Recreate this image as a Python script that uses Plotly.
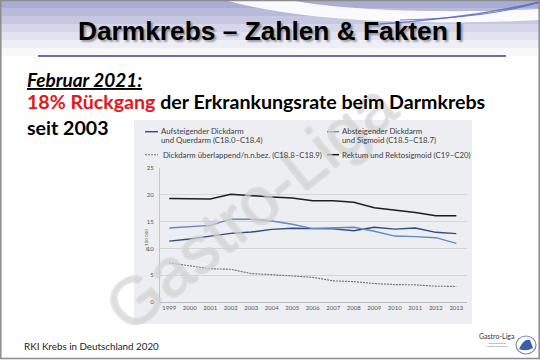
import plotly.graph_objects as go

# Darmkrebs-Inzidenz je 100 000 nach Lokalisation (RKI), 1999-2013
years = list(range(1999, 2014))
aufsteigend = [11.35, 11.75, 12.3, 12.8, 13.05, 13.55, 13.75, 13.65, 13.65, 13.3, 13.95, 13.6, 13.8, 13.0, 12.75]
absteigend = [13.8, 14.1, 14.3, 15.45, 15.45, 15.1, 14.5, 13.7, 13.8, 13.95, 13.2, 12.3, 12.2, 12.0, 10.95]
ueberlappend = [7.3, 6.8, 6.2, 6.1, 5.3, 5.1, 4.8, 4.6, 3.95, 3.8, 3.45, 3.25, 3.2, 2.95, 2.9]
rektum = [19.3, 19.3, 19.2, 20.1, 19.8, 19.6, 19.4, 18.9, 18.9, 18.6, 17.6, 17.2, 16.7, 16.1, 16.1]

series_names = [
    "Aufsteigender Dickdarm<br>und Querdarm (C18.0–C18.4)",
    "Absteigender Dickdarm<br>und Sigmoid (C18.5–C18.7)",
    "Dickdarm überlappend/n.n.bez. (C18.8–C18.9)",
    "Rektum und Rektosigmoid (C19–C20)",
]
y_ticks = [0, 5, 10, 15, 20, 25]

W, H = 540, 360


def fx(px):
    return px / W


def fy(py):
    return 1 - py / H


C_AUF = "#2f4d7c"
C_AB = "#6289c0"
C_UEB = "#6f7275"
C_REK = "#1e1e1e"
FONT = "Lato"

fig = go.Figure()
styles = [
    (aufsteigend, dict(color=C_AUF, width=1.4)),
    (absteigend, dict(color=C_AB, width=1.4)),
    (ueberlappend, dict(color=C_UEB, width=1.1, dash="2px,1px")),
    (rektum, dict(color=C_REK, width=1.5)),
]
for (vals, line), name in zip(styles, series_names):
    fig.add_trace(go.Scatter(x=years, y=vals, mode="lines", line=line,
                             name=name.replace("<br>", " "), showlegend=False,
                             hoverinfo="skip"))

shapes = []

# top banner: lavender fade
bands = [(0, 8, 0.62), (8, 16, 0.52), (16, 24, 0.42), (24, 32, 0.31),
         (32, 40, 0.21), (40, 48, 0.12), (48, 56, 0.05)]
for y0, y1, a in bands:
    shapes.append(dict(type="rect", xref="paper", yref="paper",
                       x0=0, x1=1, y0=fy(y1), y1=fy(y0),
                       fillcolor=f"rgba(118,122,184,{a})", line_width=0, layer="below"))

# white swoosh across the banner
shapes.append(dict(type="path", xref="paper", yref="paper",
                   path=f"M {fx(225)},{fy(0)} C {fx(300)},{fy(22)} {fx(430)},{fy(26)} {fx(540)},{fy(20)} "
                        f"L {fx(540)},{fy(9)} C {fx(440)},{fy(14)} {fx(340)},{fy(10)} {fx(290)},{fy(0)} Z",
                   fillcolor="rgba(255,255,255,0.92)", line_width=0, layer="below"))
# blue accent strokes at the top right
for (a, b, c), wdt in [((380, 24, 470), 1.6), ((400, 20, 490), 1.0)]:
    shapes.append(dict(type="path", xref="paper", yref="paper",
                       path=f"M {fx(a)},{fy(b)} Q {fx(c)},{fy(18)} {fx(540)},{fy(2)}",
                       line=dict(color="rgba(80,100,190,0.8)", width=wdt), layer="below"))

# rule under the heading
shapes.append(dict(type="line", xref="paper", yref="paper",
                   x0=fx(38), x1=fx(506), y0=fy(56), y1=fy(56),
                   line=dict(color="#3c3f8e", width=1.5)))

# chart panel
shapes.append(dict(type="rect", xref="paper", yref="paper",
                   x0=fx(134), x1=fx(472), y0=fy(324), y1=fy(120),
                   fillcolor="#eceef1", line_width=0, layer="below"))

# legend samples
leg_samples = [
    (145, 158, 131.7, C_AUF, None, 1.4),
    (327, 339, 131.7, C_AB, None, 1.4),
    (145, 158, 154.7, C_UEB, "2px,1px", 1.1),
    (327, 339, 154.7, C_REK, None, 1.5),
]
for x0, x1, y, col, dash, wdt in leg_samples:
    ln = dict(color=col, width=wdt)
    if dash:
        ln["dash"] = dash
    shapes.append(dict(type="line", xref="paper", yref="paper",
                       x0=fx(x0), x1=fx(x1), y0=fy(y), y1=fy(y), line=ln))

# slide frame
shapes.append(dict(type="rect", xref="paper", yref="paper",
                   x0=fx(0.8), x1=fx(539.2), y0=fy(358.5), y1=fy(0.5),
                   line=dict(color="#8c8c8c", width=1.5)))

# logo mark
shapes.append(dict(type="circle", xref="paper", yref="paper",
                   x0=fx(516), x1=fx(536), y0=fy(354), y1=fy(336),
                   line=dict(color="#7c86b8", width=1.2), fillcolor="rgba(255,255,255,0)"))
shapes.append(dict(type="path", xref="paper", yref="paper",
                   path=f"M {fx(519)},{fy(349)} Q {fx(524)},{fy(338)} {fx(530)},{fy(340)} "
                        f"L {fx(533)},{fy(348)} Q {fx(526)},{fy(352)} {fx(519)},{fy(349)} Z",
                   fillcolor="#3d5ca8", line_width=0))

ann = []


def text(x, y, s, size, color="#000", family=FONT, xanchor="left", **kw):
    ann.append(dict(x=fx(x), y=fy(y), xref="paper", yref="paper", text=s,
                    showarrow=False, xanchor=xanchor, yanchor="middle",
                    font=dict(size=size, color=color, family=family, **kw)))


# diagonal watermark (behind the slide text)
OUT = "rgba(165,165,165,0.55)"
ann.append(dict(x=fx(250), y=fy(206), xref="paper", yref="paper", text="Gastro-Liga",
                showarrow=False, textangle=-39,
                font=dict(size=67, family="Liberation Sans", color="rgba(255,255,255,0.35)",
                          shadow=f"1px 0 0 {OUT}, -1px 0 0 {OUT}, 0 1px 0 {OUT}, 0 -1px 0 {OUT}")))

text(270, 31, "<b>Darmkrebs – Zahlen &amp; Fakten I</b>", 26.3,
     family="Liberation Sans", xanchor="center", shadow="2px 2px 2px rgba(0,0,0,0.35)")
text(25, 79, "<b><i><u>Februar 2021:</u></i></b>", 19)
text(25, 101, "<b><span style='color:#e5161b'>18% Rückgang</span> der Erkrankungsrate beim Darmkrebs</b>", 19.6)
text(25, 127, "<b>seit 2003</b>", 19.6)

# legend labels
LC = "#3c3c3c"
LS = 7.8
text(159, 131, "Aufsteigender Dickdarm", LS, LC)
text(159, 140, "und Querdarm (C18.0–C18.4)", LS, LC)
text(340, 131, "Absteigender Dickdarm", LS, LC)
text(340, 140, "und Sigmoid (C18.5–C18.7)", LS, LC)
text(161, 154.7, "Dickdarm überlappend/n.n.bez. (C18.8–C18.9)", LS, LC)
text(340, 154.7, "Rektum und Rektosigmoid (C19–C20)", LS, LC)

ann.append(dict(x=fx(141), y=fy(240), xref="paper", yref="paper", text="je 100 000",
                showarrow=False, textangle=-90, font=dict(size=4.5, color="#555", family=FONT)))

text(22, 346, "RKI Krebs in Deutschland 2020", 9.8, "#222")
text(497, 336, "Gastro-Liga", 7, "#333", xanchor="center")
text(497, 344, "Gesellschaft für<br>Magen, Darm &amp; Co.", 2.6, "#666", xanchor="center")

fig.update_layout(
    width=W, height=H,
    margin=dict(l=0, r=0, t=0, b=0),
    paper_bgcolor="white",
    plot_bgcolor="rgba(0,0,0,0)",
    shapes=shapes,
    annotations=ann,
    xaxis=dict(domain=[160 / W, 467 / W], range=[1998.55, 2013.52],
               tickvals=years, ticktext=[str(y) for y in years],
               tickfont=dict(size=6, color="#555", family=FONT),
               showgrid=False, zeroline=False, showline=True,
               linecolor="#b9bcc1", linewidth=1, ticks="", automargin=False),
    yaxis=dict(domain=[1 - 302 / H, 1 - 168 / H], range=[0, 25],
               tickvals=y_ticks, tickfont=dict(size=6, color="#555", family=FONT),
               gridcolor="#d3d6da", gridwidth=1, zeroline=False,
               showline=True, linecolor="#c3c6cb", linewidth=1,
               ticks="", ticklabelstandoff=4, automargin=False),
)

fig.write_html("out.html")
